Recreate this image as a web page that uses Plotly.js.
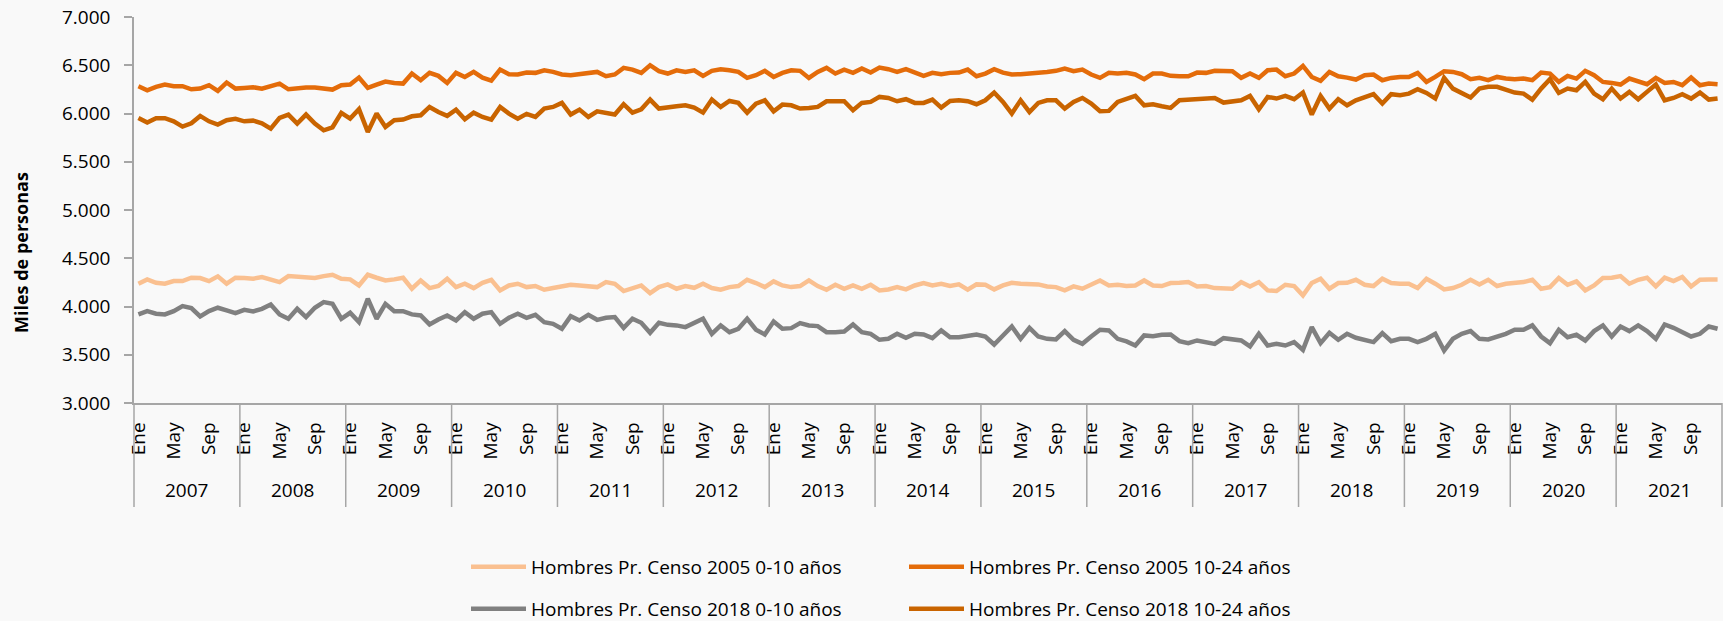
<!DOCTYPE html>
<html>
<head>
<meta charset="utf-8">
<script src="https://cdn.plot.ly/plotly-3.0.1.min.js"></script>
<style>
html,body{margin:0;padding:0;background:#f9f9f9;}
#chart{width:1723px;height:621px;}
</style>
</head>
<body>
<div id="chart"></div>
<script>
// ---- data ----
const years = [2007,2008,2009,2010,2011,2012,2013,2014,2015,2016,2017,2018,2019,2020,2021];
const months = ['Ene','Feb','Mar','Abr','May','Jun','Jul','Ago','Sep','Oct','Nov','Dic'];
const shownMonths = ['Ene','May','Sep'];
const seriesNames = [
  'Hombres Pr. Censo 2005 0-10 años',
  'Hombres Pr. Censo 2005 10-24 años',
  'Hombres Pr. Censo 2018 0-10 años',
  'Hombres Pr. Censo 2018 10-24 años'
];
const yTitle = 'Miles de personas';

const censo2005_0_10 = [
  4236,4281,4246,4236,4263,4263,4298,4295,4263,4312,4236,4298,
  4295,4288,4305,4281,4253,4315,4305,4298,4295,4315,4329,4288,
  4281,4218,4329,4298,4270,4281,4298,4184,4270,4191,4212,4288,
  4201,4236,4191,4246,4277,4167,4218,4236,4201,4212,4174,4191,
  4212,4225,4218,4212,4201,4253,4236,4160,4184,4218,4139,4201,
  4229,4184,4212,4194,4236,4191,4174,4201,4212,4277,4243,4201,
  4260,4218,4201,4212,4270,4212,4174,4225,4184,4218,4184,4225,
  4167,4177,4201,4177,4218,4243,4218,4236,4212,4229,4174,4229,
  4225,4177,4218,4246,4236,4236,4229,4208,4201,4167,4208,4184,
  4225,4270,4218,4225,4212,4218,4270,4218,4212,4243,4246,4253,
  4208,4212,4191,4184,4184,4253,4208,4253,4167,4160,4225,4212,
  4115,4243,4288,4184,4243,4246,4277,4225,4212,4288,4243,4236,
  4236,4191,4288,4236,4177,4191,4225,4277,4229,4277,4212,4236,
  4246,4253,4277,4184,4201,4295,4225,4260,4167,4218,4295,4298,
  4315,4236,4277,4298,4208,4298,4263,4305,4208,4277,4281,4281
];
const censo2005_10_24 = [
  6282,6241,6276,6300,6283,6283,6251,6258,6293,6234,6321,6258,
  6265,6272,6258,6286,6310,6251,6265,6269,6269,6258,6248,6293,
  6300,6372,6265,6300,6331,6317,6310,6414,6345,6421,6390,6317,
  6421,6379,6431,6372,6341,6455,6407,6404,6424,6421,6448,6431,
  6404,6397,6407,6421,6431,6386,6404,6473,6455,6421,6500,6438,
  6414,6448,6431,6448,6390,6442,6459,6448,6431,6369,6397,6442,
  6379,6421,6448,6442,6369,6431,6473,6414,6455,6421,6466,6424,
  6476,6459,6431,6459,6421,6390,6421,6407,6421,6424,6455,6386,
  6414,6459,6424,6404,6407,6414,6414,6431,6442,6466,6438,6455,
  6404,6369,6421,6414,6421,6404,6355,6414,6414,6390,6386,6386,
  6424,6421,6442,6442,6438,6369,6414,6369,6448,6455,6386,6414,
  6493,6379,6338,6431,6386,6372,6352,6397,6404,6345,6369,6379,
  6379,6421,6327,6379,6438,6431,6407,6355,6369,6345,6379,6362,
  6355,6362,6345,6424,6414,6327,6390,6362,6442,6397,6327,6317,
  6300,6362,6327,6303,6369,6317,6327,6293,6372,6293,6310,6303
];
const censo2018_0_10 = [
  3918,3952,3925,3918,3952,4004,3983,3897,3952,3987,3959,3931,
  3966,3949,3976,4021,3918,3873,3976,3890,3987,4046,4028,3873,
  3935,3838,4080,3873,4028,3952,3952,3918,3907,3814,3866,3907,
  3855,3942,3873,3925,3942,3821,3883,3925,3883,3914,3838,3821,
  3769,3900,3855,3914,3862,3883,3890,3779,3873,3831,3727,3831,
  3810,3804,3786,3828,3873,3717,3804,3734,3769,3873,3759,3710,
  3845,3769,3776,3828,3804,3797,3734,3734,3741,3814,3734,3717,
  3655,3665,3717,3676,3717,3710,3672,3752,3682,3682,3700,3710,
  3689,3606,3700,3793,3665,3779,3689,3665,3658,3745,3655,3613,
  3689,3759,3752,3665,3638,3596,3700,3693,3707,3710,3641,3620,
  3648,3631,3613,3672,3665,3648,3586,3717,3596,3613,3596,3631,
  3551,3786,3620,3727,3655,3717,3676,3648,3631,3724,3641,3665,
  3665,3631,3665,3717,3544,3665,3717,3745,3665,3658,3682,3717,
  3759,3759,3804,3689,3620,3759,3682,3707,3648,3745,3804,3689,
  3793,3745,3804,3745,3665,3814,3779,3734,3689,3717,3793,3769
];
const censo2018_10_24 = [
  5954,5906,5951,5951,5919,5864,5899,5975,5919,5885,5930,5944,
  5919,5926,5899,5843,5954,5989,5895,5989,5895,5826,5857,6006,
  5947,6044,5809,6000,5861,5930,5937,5971,5982,6068,6016,5975,
  6040,5940,6009,5964,5937,6068,5999,5947,5996,5964,6051,6068,
  6110,5989,6040,5964,6023,6009,5989,6096,6009,6044,6144,6051,
  6068,6075,6085,6061,6009,6144,6068,6130,6110,6009,6103,6137,
  6023,6092,6085,6051,6058,6068,6127,6130,6127,6034,6110,6120,
  6172,6161,6127,6148,6110,6110,6144,6061,6130,6137,6127,6096,
  6137,6217,6120,5999,6137,6016,6110,6137,6137,6051,6120,6161,
  6103,6023,6027,6120,6155,6182,6085,6096,6075,6058,6137,6144,
  6144,6155,6161,6113,6120,6137,6182,6044,6172,6155,6182,6148,
  6217,5989,6182,6051,6148,6085,6137,6172,6200,6103,6200,6189,
  6206,6251,6213,6155,6369,6258,6213,6165,6258,6276,6276,6251,
  6217,6206,6144,6258,6355,6213,6258,6241,6327,6206,6148,6258,
  6155,6224,6148,6224,6300,6137,6161,6200,6155,6217,6144,6155
];

// ---- build ----
const seriesValues = [censo2005_0_10, censo2005_10_24, censo2018_0_10, censo2018_10_24];
const seriesColors = ['#FAC090', '#E46C0A', '#808080', '#C96400'];
const seriesLegend = ['legend', 'legend', 'legend2', 'legend2'];

const N = years.length * months.length;
const xIdx = Array.from({length: N}, (_, i) => i);
const tickvals = [], ticktext = [];
xIdx.forEach(i => {
  const m = months[i % months.length];
  if (shownMonths.includes(m)) { tickvals.push(i); ticktext.push(m); }
});
const hoverLabels = xIdx.map(i => months[i % 12] + ' ' + years[Math.floor(i / 12)]);

const traces = seriesValues.map((vals, k) => ({
  type: 'scatter',
  mode: 'lines',
  name: seriesNames[k],
  x: xIdx,
  y: vals,
  text: hoverLabels,
  line: {color: seriesColors[k], width: 4.5, shape: 'linear'},
  legend: seriesLegend[k],
  hovertemplate: '%{text}: %{y:,}<extra>' + seriesNames[k] + '</extra>'
}));

const W = 1723, H = 621;
const mL = 134, mR = 1, mT = 17, mB = 218;
const plotH = H - mT - mB;
const plotW = W - mL - mR;
const axisY = H - mB;
const paperY = py => (axisY - py) / plotH;   // pixel -> paper y
const paperX = px => (px - mL) / plotW;

const shapes = [];
for (let k = 0; k <= years.length; k++) {
  const xp = (k * months.length) / N;
  shapes.push({type: 'line', xref: 'paper', yref: 'paper',
    x0: xp, x1: xp, y0: 0, y1: paperY(507),
    line: {color: '#A6A6A6', width: 1.5}});
}

const annotations = years.map((yr, k) => ({
  xref: 'x', yref: 'paper', x: k * 12 + 5.5, y: paperY(490),
  text: String(yr), showarrow: false, xanchor: 'center', yanchor: 'middle',
  font: {size: 19, color: '#000'}
}));
annotations.push({
  xref: 'paper', yref: 'paper', x: paperX(21), y: paperY(253),
  text: '<b>' + yTitle + '</b>', textangle: -90, showarrow: false,
  xanchor: 'center', yanchor: 'middle', font: {size: 18, color: '#000'}
});

const legendCommon = {
  orientation: 'h', xref: 'container', yref: 'container',
  xanchor: 'left', yanchor: 'middle',
  bgcolor: 'rgba(0,0,0,0)', borderwidth: 0,
  font: {size: 19, color: '#000', family: 'Open Sans'},
  itemwidth: 55,
  entrywidth: 368, entrywidthmode: 'pixels',
  itemclick: false, itemdoubleclick: false
};

const layout = {
  width: W, height: H,
  margin: {l: mL, r: mR, t: mT, b: mB, pad: 0},
  paper_bgcolor: '#F9F9F9', plot_bgcolor: '#F9F9F9',
  separators: ',.',
  font: {family: 'Open Sans', size: 19, color: '#000'},
  showlegend: true,
  xaxis: {
    range: [-0.5, N - 0.5], tickmode: 'array', tickvals: tickvals, ticktext: ticktext,
    tickangle: -90, ticks: '', showgrid: false, zeroline: false,
    showline: true, linecolor: '#A6A6A6', linewidth: 1.5,
    tickfont: {size: 19, color: '#000'}, ticklabelstandoff: 10, fixedrange: true
  },
  yaxis: {
    range: [3000, 7000], tick0: 3000, dtick: 500, tickformat: ',',
    ticks: 'outside', ticklen: 8, tickwidth: 1.5, tickcolor: '#A6A6A6',
    showline: true, linecolor: '#A6A6A6', linewidth: 1.5,
    showgrid: false, zeroline: false,
    tickfont: {size: 19, color: '#000'}, ticklabelstandoff: 10, fixedrange: true
  },
  legend: Object.assign({}, legendCommon, {x: 466 / W, y: 1 - 567 / H}),
  legend2: Object.assign({}, legendCommon, {x: 466 / W, y: 1 - 609 / H}),
  shapes: shapes,
  annotations: annotations
};

Plotly.newPlot('chart', traces, layout, {displayModeBar: false, responsive: false});
</script>
</body>
</html>
